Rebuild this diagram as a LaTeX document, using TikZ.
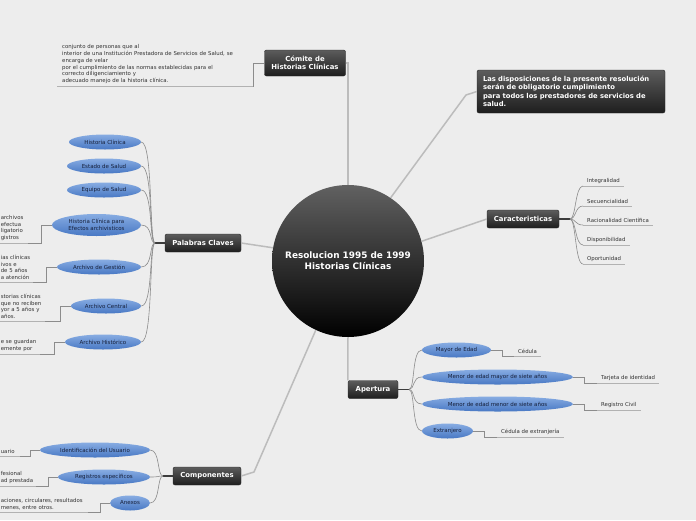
\documentclass[tikz,border=0pt]{standalone}
\usepackage{fontspec}
\setmainfont{DejaVu Sans}
\usetikzlibrary{shapes.geometric}
\definecolor{bgcol}{RGB}{237,237,237}
\definecolor{topictop}{RGB}{92,92,92}
\definecolor{topicbot}{RGB}{30,30,30}
\definecolor{bluetop}{RGB}{135,172,226}
\definecolor{bluebot}{RGB}{72,120,196}
\definecolor{bluetext}{RGB}{22,32,58}
\definecolor{leaftext}{RGB}{50,50,50}
\definecolor{branchcol}{RGB}{188,188,188}
\definecolor{twigcol}{RGB}{140,140,140}
\definecolor{ulinecol}{RGB}{178,178,178}
\definecolor{stubcol}{RGB}{60,60,60}

\begin{document}
\begin{tikzpicture}[x=1pt,y=-1pt,
  topic/.style={draw=black!85,rounded corners=2pt,top color=topictop,bottom color=topicbot,
    text=white,font=\bfseries\fontsize{6.9}{8}\selectfont,minimum height=18pt,inner sep=2pt,align=center},
  subtopic/.style={ellipse,top color=bluetop,bottom color=bluebot,text=bluetext,
    font=\fontsize{5.5}{6.6}\selectfont,inner sep=0pt,minimum height=15pt,align=center},
  leaf/.style={font=\fontsize{5.4}{6.8}\selectfont,text=leaftext,inner xsep=4pt,inner ysep=2pt,align=left},
  cutleaf/.style={leaf,anchor=south east,inner xsep=1pt},
  branch/.style={draw=branchcol,line width=1.5pt},
  twig/.style={draw=twigcol,line width=0.6pt},
  uline/.style={draw=ulinecol,line width=0.8pt},
  stub/.style={draw=stubcol,line width=1.3pt}]
  \fill[bgcol] (0,0) rectangle (696,520);
  \clip (0,0) rectangle (696,520);

  \node[circle,minimum size=152pt,top color=black!62,bottom color=black,text=white,
    font=\bfseries\fontsize{8.9}{11}\selectfont,align=center] (root) at (348,261)
    {Resolucion 1995 de 1999\\Historias Clínicas};

  \node[topic,minimum width=81pt,minimum height=26pt] (comite) at (305,63) {Cómite de\\Historias Clínicas};
  \node[topic,minimum height=43pt,text width=176pt,inner xsep=6pt,align=left,font=\bfseries\fontsize{6.8}{8.4}\selectfont]
    (dispo) at (571,91.5)
    {Las disposiciones de la presente resolución\\serán de obligatorio cumplimiento\\para todos los prestadores de servicios de\\salud.};
  \node[topic,minimum width=72pt] (carac) at (523,219) {Caracteristicas};
  \node[topic,minimum width=76pt] (palabras) at (203,243) {Palabras Claves};
  \node[topic,minimum width=50pt] (apertura) at (373,389.5) {Apertura};
  \node[topic,minimum width=68pt] (compo) at (207,476) {Componentes};

  \draw[branch] (comite.east) -| (root.north);
  \draw[branch] (root.56) -- (466,95) -- (dispo.west);
  \draw[branch] (root.15) -- (carac.west);
  \draw[branch] (root.170) -- (palabras.east);
  \draw[branch] (root.south) -- (apertura.north west);
  \draw[branch] (root.245) -- (254,472) -- (compo.east);

  \node[leaf,anchor=south west,text width=186pt,inner xsep=5pt] (comitetxt) at (57,86)
    {conjunto de personas que al\\interior de una Institución Prestadora de Servicios de Salud, se\\encarga de velar\\por el cumplimiento de las normas establecidas para el\\correcto diligenciamiento y\\adecuado manejo de la historia clínica.};
  \draw[uline] (comitetxt.south west) -- (comitetxt.south east);
  \draw[twig] (comite.west) -- ++(-11,0) |- (comitetxt.south east);

  \coordinate (phub) at (155,243);
  \draw[stub] (palabras.west) -- (phub);
  \node[subtopic,minimum width=72pt] (hc) at (105,142) {Historia Clínica};
  \node[subtopic,minimum width=74pt] (es) at (104,166) {Estado de Salud};
  \node[subtopic,minimum width=74pt] (eq) at (104,190) {Equipo de Salud};
  \node[subtopic,minimum width=89pt,minimum height=22pt] (hcea) at (96.5,225) {Historia Clínica para\\Efectos archivisticos};
  \node[subtopic,minimum width=84pt] (ag) at (99,267) {Archivo de Gestión};
  \node[subtopic,minimum width=70pt] (ac) at (106,306) {Archivo Central};
  \node[subtopic,minimum width=76pt] (ah) at (103,342) {Archivo Histórico};
  \foreach \c in {hc,es,eq,hcea,ag,ac,ah}
    \draw[twig] (phub) .. controls +(-6,0) and +(12,0) .. (\c.east);

  \node[cutleaf,text width=26pt] (hceatxt) at (28,243) {archivos\\efectua\\ligatorio\\gistros};
  \node[cutleaf,text width=31pt] (agtxt) at (33,282) {ias clínicas\\ivos e\\de 5 años\\a atención};
  \node[cutleaf,text width=43pt] (actxt) at (45,321) {storias clínicas\\que no reciben\\yor a 5 años y\\años.};
  \node[cutleaf,text width=38pt] (ahtxt) at (40,354) {e se guardan\\emente por};
  \foreach \c in {hcea,ag,ac,ah} {
    \draw[uline] (\c txt.south west) -- (\c txt.south east);
    \draw[twig] (\c.west) -- ++(-11,0) |- (\c txt.south east);
  }

  \coordinate (chub) at (570,219);
  \draw[stub] (carac.east) -- (chub);
  \node[leaf,anchor=south west] (integ) at (583,186) {Integralidad};
  \node[leaf,anchor=south west] (secu) at (583,206) {Secuencialidad};
  \node[leaf,anchor=south west] (racio) at (583,225) {Racionalidad Científica};
  \node[leaf,anchor=south west] (dispon) at (583,245) {Disponibilidad};
  \node[leaf,anchor=south west] (oport) at (583,264) {Oportunidad};
  \foreach \c in {integ,secu,racio,dispon,oport} {
    \draw[uline] (\c.south west) -- (\c.south east);
    \draw[twig] (chub) .. controls +(6,0) and +(-8,0) .. (\c.south west);
  }

  \coordinate (ahub) at (409,389.5);
  \draw[stub] (apertura.east) -- (ahub);
  \node[subtopic,minimum width=69pt] (mayor) at (456.5,350) {Mayor de Edad};
  \node[subtopic,minimum width=151pt] (menmay) at (497.5,377) {Menor de edad mayor de siete años};
  \node[subtopic,minimum width=151pt] (menmen) at (497.5,404) {Menor de edad menor de siete años};
  \node[subtopic,minimum width=51pt] (extra) at (447.5,431) {Extranjero};
  \node[leaf,anchor=south west] (mayortxt) at (514,356) {Cédula};
  \node[leaf,anchor=south west] (menmaytxt) at (597,383) {Tarjeta de identidad};
  \node[leaf,anchor=south west] (menmentxt) at (597,410) {Registro Civil};
  \node[leaf,anchor=south west] (extratxt) at (497,437) {Cédula de extranjería};
  \foreach \c in {mayor,menmay,menmen,extra} {
    \draw[twig] (ahub) .. controls +(6,0) and +(-10,0) .. (\c.west);
    \draw[uline] (\c txt.south west) -- (\c txt.south east);
    \draw[twig] (\c.east) -- ++(11,0) |- (\c txt.south west);
  }

  \coordinate (khub) at (163,476);
  \draw[stub] (compo.west) -- (khub);
  \node[subtopic,minimum width=110pt] (ident) at (95,450) {Identificación del Usuario};
  \node[subtopic,minimum width=92pt] (regis) at (104,477) {Registros específicos};
  \node[subtopic,minimum width=40pt] (anex) at (130,503) {Anexos};
  \node[cutleaf,text width=18pt] (identtxt) at (20,456) {uario};
  \node[cutleaf,text width=34pt] (registxt) at (36,486) {fesional\\ad prestada};
  \node[cutleaf,text width=86pt] (anextxt) at (88,512) {aciones, circulares, resultados\\menes, entre otros.};
  \foreach \c in {ident,regis,anex} {
    \draw[twig] (khub) .. controls +(-6,0) and +(10,0) .. (\c.east);
    \draw[uline] (\c txt.south west) -- (\c txt.south east);
    \draw[twig] (\c.west) -- ++(-10,0) |- (\c txt.south east);
  }
\end{tikzpicture}
\end{document}
